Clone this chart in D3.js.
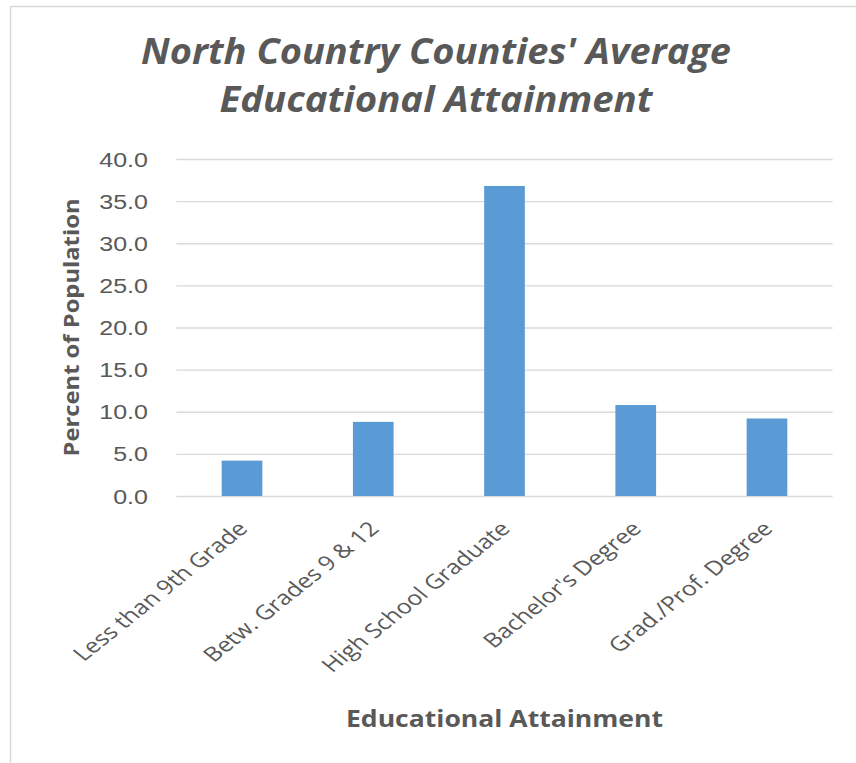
<!DOCTYPE html>
<html>
<head>
<meta charset="utf-8">
<script src="https://cdn.jsdelivr.net/npm/d3@7"></script>
<style>
  html, body { margin: 0; padding: 0; background: #fff; }
  svg { display: block; font-family: "Open Sans", "Noto Sans", sans-serif; }
</style>
</head>
<body>
<svg id="chart" width="856" height="763"></svg>
<script>
const categories = ["Less than 9th Grade", "Betw. Grades 9 & 12", "High School Graduate", "Bachelor's Degree", "Grad./Prof. Degree"];
const values = [4.2, 8.8, 36.8, 10.8, 9.2];
const yTicks = [0, 5, 10, 15, 20, 25, 30, 35, 40];
const titleLines = ["North Country Counties' Average", "Educational Attainment"];
const xTitle = "Educational Attainment";
const yTitle = "Percent of Population";

const svg = d3.select("#chart");
const textColor = "#595959";
const sx = 1.25; // horizontal stretch seen in the reference

// chart border (top and left visible)
svg.append("line").attr("x1", 10).attr("x2", 856).attr("y1", 6.5).attr("y2", 6.5)
  .attr("stroke", "#d9d9d9").attr("stroke-width", 1.5);
svg.append("line").attr("x1", 10.5).attr("x2", 10.5).attr("y1", 6).attr("y2", 763)
  .attr("stroke", "#d9d9d9").attr("stroke-width", 1.5);

const x = d3.scaleBand().domain(categories).range([176.4, 832.6])
  .paddingInner(0.69).paddingOuter(0.345);
const y = d3.scaleLinear().domain([0, 40]).range([496, 159]);

// gridlines + y tick labels
const yAxis = svg.append("g").attr("transform", "translate(176.4,0)")
  .call(d3.axisLeft(y).tickValues(yTicks).tickSize(-(832.6 - 176.4)).tickFormat(d3.format(".1f")));
yAxis.select(".domain").remove();
yAxis.selectAll(".tick line").attr("stroke", "#d9d9d9").attr("stroke-width", 1.3);
yAxis.selectAll(".tick text")
  .attr("x", 0).attr("dy", "0.35em")
  .attr("transform", `translate(-28.5,0) scale(${sx},1)`)
  .attr("text-anchor", "end")
  .attr("fill", textColor)
  .style("font-size", "20px");

// bars
svg.append("g").selectAll("rect").data(values).join("rect")
  .attr("x", (d, i) => x(categories[i]))
  .attr("width", x.bandwidth())
  .attr("y", d => y(d))
  .attr("height", d => y(0) - y(d))
  .attr("fill", "#5b9bd5");

// x labels, rotated
svg.append("g").selectAll("text").data(categories).join("text")
  .attr("transform", d => `translate(${x(d) + x.bandwidth() / 2 + 7},530) scale(${sx},1) rotate(-45)`)
  .attr("text-anchor", "end")
  .attr("fill", textColor)
  .style("font-size", "20px")
  .text(d => d);

// title
const tLens = [590, 433];
svg.append("g").selectAll("text").data(titleLines).join("text")
  .attr("x", 436)
  .attr("y", (d, i) => 64 + i * 48)
  .attr("text-anchor", "middle")
  .attr("fill", textColor)
  .style("font-size", "35px")
  .style("font-style", "italic")
  .style("font-weight", "700")
  .attr("textLength", (d, i) => tLens[i])
  .attr("lengthAdjust", "spacingAndGlyphs")
  .text(d => d);

// x axis title
svg.append("text")
  .attr("x", 504.5).attr("y", 727)
  .attr("text-anchor", "middle")
  .attr("fill", textColor)
  .style("font-size", "24px")
  .style("font-weight", "700")
  .attr("textLength", 317)
  .attr("lengthAdjust", "spacingAndGlyphs")
  .text(xTitle);

// y axis title
svg.append("text")
  .attr("transform", `translate(79,327.5) scale(${sx},1) rotate(-90)`)
  .attr("text-anchor", "middle")
  .attr("fill", textColor)
  .style("font-size", "17px")
  .style("font-weight", "700")
  .attr("textLength", 258)
  .attr("lengthAdjust", "spacingAndGlyphs")
  .text(yTitle);
</script>
</body>
</html>
